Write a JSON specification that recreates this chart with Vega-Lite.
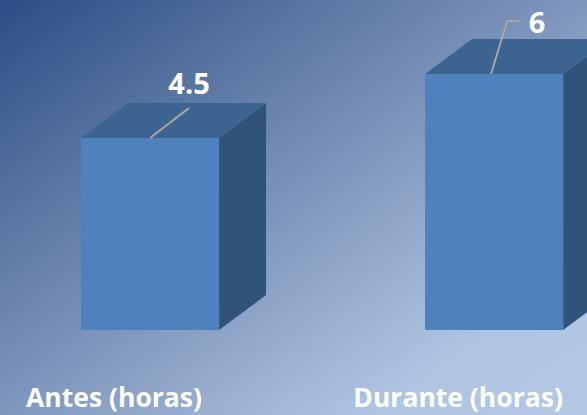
{
"$schema":"https://vega.github.io/schema/vega-lite/v6.json",
"width":587,"height":415,"padding":0,"autosize":{"type":"none"},
"config":{"view":{"stroke":null}},
"view":{"stroke":null,"fill":{"gradient":"linear","x1":0,"y1":0,"x2":1,"y2":1,"stops":[{"offset":0,"color":"#2c4d86"},{"offset":0.25,"color":"#56729f"},{"offset":0.5,"color":"#7f97bd"},{"offset":0.82,"color":"#b0c5e2"},{"offset":1,"color":"#b4c8e4"}]}},
"datasets":{
"bars":[{"category":"Antes (horas)","idx":0,"value":4.5},{"category":"Durante (horas)","idx":1,"value":6}],
"leaders":[{"category":"Antes (horas)","px":0,"py":4.5},{"category":"Antes (horas)","px":0.113,"py":5.2},{"category":"Durante (horas)","px":0.991,"py":6},{"category":"Durante (horas)","px":1.038,"py":7.24},{"category":"Durante (horas)","px":1.076,"py":7.24}]
},
"encoding":{},
"layer":[
{"data":{"name":"bars"},
"transform":[{"calculate":"[datum.idx+0.2006,datum.idx+0.2006+0.1366]","as":"xs"},{"calculate":"[datum.value,datum.value+0.82]","as":"yt"},{"calculate":"[0,0.82]","as":"yb"},{"flatten":["xs","yt","yb"]}],
"mark":{"type":"area","fill":"#30527b","clip":true,"opacity":1},
"encoding":{"x":{"field":"xs","type":"quantitative","scale":{"domain":[-0.436,1.27],"range":[0,587],"nice":false,"zero":false},"axis":null},"y":{"field":"yt","type":"quantitative","scale":{"domain":[-1.992,7.734],"range":[415,0],"nice":false,"zero":false},"axis":null},"y2":{"field":"yb"},"detail":{"field":"category"}}},
{"data":{"name":"bars"},
"transform":[{"calculate":"[datum.idx-0.2006,datum.idx-0.2006+0.1366,datum.idx+0.2006,datum.idx+0.2006+0.1366]","as":"xs"},{"calculate":"[datum.value,datum.value+0.82,datum.value+0.82,datum.value+0.82]","as":"yt"},{"calculate":"[datum.value,datum.value,datum.value,datum.value+0.82]","as":"yb"},{"flatten":["xs","yt","yb"]}],
"mark":{"type":"area","fill":"#3d6491","clip":true,"opacity":1},
"encoding":{"x":{"field":"xs","type":"quantitative","scale":{"domain":[-0.436,1.27],"range":[0,587],"nice":false,"zero":false},"axis":null},"y":{"field":"yt","type":"quantitative","scale":{"domain":[-1.992,7.734],"range":[415,0],"nice":false,"zero":false},"axis":null},"y2":{"field":"yb"},"detail":{"field":"category"}}},
{"data":{"name":"bars"},
"transform":[{"calculate":"datum.idx-0.2006","as":"x0"},{"calculate":"datum.idx+0.2006","as":"x1"}],
"mark":{"type":"rect","fill":"#4f81bd","clip":true},
"encoding":{"x":{"field":"x0","type":"quantitative","scale":{"domain":[-0.436,1.27],"range":[0,587],"nice":false,"zero":false},"axis":null},"x2":{"field":"x1"},"y":{"field":"value","type":"quantitative","scale":{"domain":[-1.992,7.734],"range":[415,0],"nice":false,"zero":false},"axis":null},"y2":{"datum":0}}},
{"data":{"name":"leaders"},
"mark":{"type":"line","stroke":"#a6a6a6","strokeWidth":2,"clip":true},
"encoding":{"x":{"field":"px","type":"quantitative","scale":{"domain":[-0.436,1.27],"range":[0,587],"nice":false,"zero":false},"axis":null},"y":{"field":"py","type":"quantitative","scale":{"domain":[-1.992,7.734],"range":[415,0],"nice":false,"zero":false},"axis":null},"detail":{"field":"category"}}},
{"data":{"name":"bars"},
"transform":[{"filter":"datum.idx==0"}],
"mark":{"type":"text","font":"Open Sans","fontWeight":"bold","fontSize":29,"fill":"#ffffff","dx":39,"dy":-53,"align":"center","baseline":"middle"},
"encoding":{"x":{"field":"idx","type":"quantitative","scale":{"domain":[-0.436,1.27],"range":[0,587],"nice":false,"zero":false},"axis":null},"y":{"field":"value","type":"quantitative","scale":{"domain":[-1.992,7.734],"range":[415,0],"nice":false,"zero":false},"axis":null},"text":{"field":"value","type":"quantitative"}}},
{"data":{"name":"bars"},
"transform":[{"filter":"datum.idx==1"}],
"mark":{"type":"text","font":"Open Sans","fontWeight":"bold","fontSize":29,"fill":"#ffffff","dx":43,"dy":-50,"align":"center","baseline":"middle"},
"encoding":{"x":{"field":"idx","type":"quantitative","scale":{"domain":[-0.436,1.27],"range":[0,587],"nice":false,"zero":false},"axis":null},"y":{"field":"value","type":"quantitative","scale":{"domain":[-1.992,7.734],"range":[415,0],"nice":false,"zero":false},"axis":null},"text":{"field":"value","type":"quantitative"}}},
{"data":{"name":"bars"},
"mark":{"type":"text","font":"Open Sans","fontWeight":"bold","fontSize":26.5,"fill":"#ffffff","dx":-36,"align":"center","baseline":"middle"},
"encoding":{"x":{"field":"idx","type":"quantitative","scale":{"domain":[-0.436,1.27],"range":[0,587],"nice":false,"zero":false},"axis":null},"y":{"datum":-1.62,"type":"quantitative","scale":{"domain":[-1.992,7.734],"range":[415,0],"nice":false,"zero":false},"axis":null},"text":{"field":"category"}}}
]
}
